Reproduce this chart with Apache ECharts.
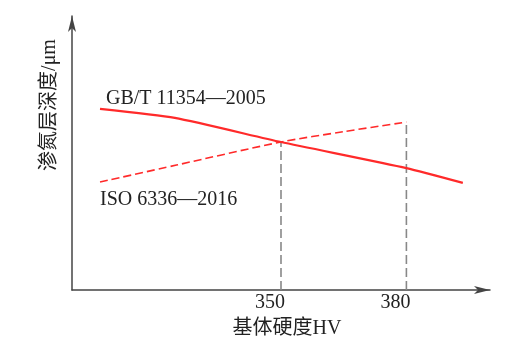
<!DOCTYPE html>
<html>
<head>
<meta charset="utf-8">
<script src="https://cdn.jsdelivr.net/npm/echarts@6/dist/echarts.min.js"></script>
<style>html,body{margin:0;padding:0;background:#fff;}#c{width:520px;height:357px;}</style>
</head>
<body>
<div id="c"></div>
<script>
// Data (y axis has no ticks: relative scale 0-100)
const xTicks = [350, 380];
const gbX = [306.7, 324.6, 350, 380, 393.5];
const gbY = [66.1, 62.8, 54.0, 44.5, 39.1];
const isoX = [306.7, 325, 350, 365, 380];
const isoY = [39.4, 45.6, 54.0, 57.8, 61.3];
const guideX = [350, 380];
const guideTop = [54.0, 61.3];
const gbName = 'GB/T 11354—2005';
const isoName = 'ISO 6336—2016';
const xName = '基体硬度HV';
const yName = '渗氮层深度/μm';

const FONT = '"Liberation Serif", "Noto Sans CJK SC", serif';
const RED = '#ff2a2a';
const AX = '#444';

const chart = echarts.init(document.getElementById('c'), null, {renderer: 'canvas'});
const zip = (xs, ys) => xs.map((x, i) => [x, ys[i]]);

const guideSeries = guideX.map((x, i) => ({
  type: 'line', data: [[x, 0], [x, guideTop[i]]], symbol: 'none', silent: true,
  lineStyle: {color: '#888', width: 1.6, type: [9, 4]}, z: 1
}));

chart.setOption({
  animation: false,
  backgroundColor: '#fff',
  grid: {left: 72, right: 30, top: 16, bottom: 67},
  xAxis: {
    type: 'value', min: 300, max: 400,
    name: xName, nameLocation: 'middle', nameGap: 29,
    nameTextStyle: {fontFamily: FONT, fontSize: 20, color: '#222', padding: [0, 0, 0, 12]},
    axisLine: {show: true, symbol: ['none', 'arrow'], symbolSize: [6, 16],
      lineStyle: {color: AX, width: 1.5}},
    axisTick: {show: false},
    splitLine: {show: false},
    axisLabel: {customValues: xTicks, fontFamily: FONT, fontSize: 20, color: '#222',
      margin: 3, padding: [0, 22, 0, 0]}
  },
  yAxis: {
    type: 'value', min: 0, max: 100,
    name: yName, nameLocation: 'middle', nameGap: 12, nameRotate: 90,
    nameTextStyle: {fontFamily: FONT, fontSize: 20, color: '#222', padding: [0, 0, 0, 96]},
    axisLine: {show: true, symbol: ['none', 'arrow'], symbolSize: [6, 16],
      lineStyle: {color: AX, width: 1.5}},
    axisTick: {show: false},
    splitLine: {show: false},
    axisLabel: {show: false}
  },
  graphic: [
    {type: 'text', x: 106, y: 98.5, z: 10,
      style: {text: gbName, font: '20px ' + FONT, fill: '#222', verticalAlign: 'middle'}},
    {type: 'text', x: 100, y: 200, z: 10,
      style: {text: isoName, font: '20px ' + FONT, fill: '#222', verticalAlign: 'middle'}}
  ],
  series: [
    ...guideSeries,
    {type: 'line', name: gbName, data: zip(gbX, gbY), symbol: 'none', smooth: 0.2,
      lineStyle: {color: RED, width: 2.2}, z: 3},
    {type: 'line', name: isoName, data: zip(isoX, isoY), symbol: 'none', smooth: 0.3,
      lineStyle: {color: RED, width: 1.6, type: [8, 4]}, z: 3}
  ]
});
</script>
</body>
</html>
